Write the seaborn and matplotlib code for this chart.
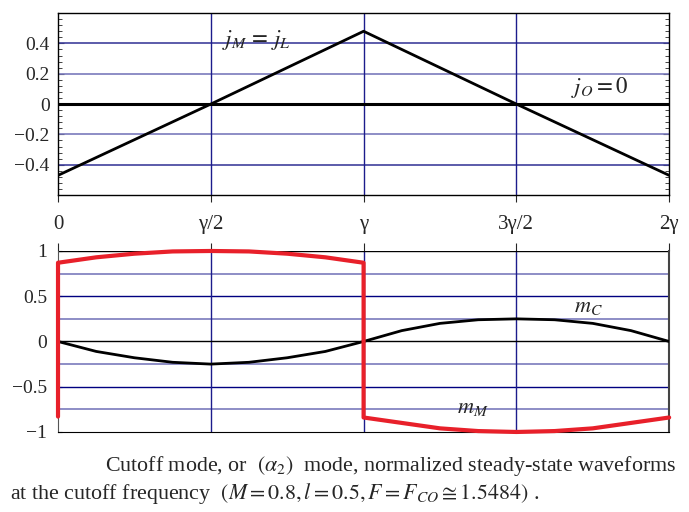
import numpy as np
import pandas as pd
import seaborn as sns
import matplotlib.pyplot as plt
from matplotlib.ticker import MultipleLocator

# x positions in units of gamma
tick_pos = [0, 0.5, 1, 1.5, 2]
tick_lab = ['0', '\u03b3/2', '\u03b3', '3\u03b3/2', '2\u03b3']

# top panel: j_M = j_L
j_x = [0, 0.5, 1, 1.5, 2]
j_y = [-0.47, 0.0, 0.48, 0.0, -0.47]

# bottom panel: m_C
mc_x = [0, 0.125, 0.25, 0.375, 0.5, 0.625, 0.75, 0.875, 1,
        1.125, 1.25, 1.375, 1.5, 1.625, 1.75, 1.875, 2]
mc_y = [0, -0.11, -0.18, -0.23, -0.25, -0.23, -0.18, -0.11, 0,
        0.12, 0.20, 0.24, 0.25, 0.24, 0.20, 0.12, 0]

# bottom panel: m_M (with the switching jumps)
mm_x = [0, 0, 0.125, 0.25, 0.375, 0.5, 0.625, 0.75, 0.875, 1,
        1, 1.125, 1.25, 1.375, 1.5, 1.625, 1.75, 1.875, 2]
mm_y = [-0.83, 0.87, 0.93, 0.97, 0.995, 1.0, 0.995, 0.97, 0.93, 0.87,
        -0.84, -0.90, -0.96, -0.99, -1.0, -0.99, -0.96, -0.90, -0.84]

sns.set_style('white')
plt.rcParams['font.family'] = ['Liberation Serif', 'DejaVu Serif']
plt.rcParams['mathtext.fontset'] = 'stix'

fig = plt.figure(figsize=(6.89, 5.12), dpi=100)
ax1 = fig.add_axes([0.0842, 0.619, 0.887, 0.3555])
ax2 = fig.add_axes([0.0842, 0.1563, 0.887, 0.3535])

navy = '#1c1c8c'
light = '#7a7abc'

# ---- top panel
for y, c in [(0.4, '#40409c'), (0.2, light), (-0.2, light), (-0.4, '#40409c')]:
    ax1.axhline(y, color=c, lw=1.2, zorder=1)
for x in [0.5, 1, 1.5]:
    ax1.axvline(x, color=navy, lw=1.0, zorder=1)
ax1.axhline(0, color='black', lw=2.2, zorder=2)
sns.lineplot(x=j_x, y=j_y, ax=ax1, color='black', lw=2.0, sort=False,
             estimator=None, zorder=3)
ax1.set_xlim(0, 2)
ax1.set_ylim(-0.6, 0.6)
ax1.set_yticks([-0.4, -0.2, 0, 0.2, 0.4])
ax1.set_yticklabels(['\u22120.4', '\u22120.2', '0', '0.2', '0.4'])
ax1.yaxis.set_minor_locator(MultipleLocator(0.04))
ax1.tick_params(axis='y', which='both', direction='in', left=True, right=True,
                labelsize=14, pad=6)
ax1.tick_params(axis='y', which='major', length=4, width=0.8)
ax1.tick_params(axis='y', which='minor', length=3, width=0.6)
ax1.set_xticks(tick_pos)
ax1.set_xticklabels(tick_lab)
ax1.tick_params(axis='x', direction='out', bottom=True, length=5, width=0.8,
                labelsize=15, pad=9)
for s in ax1.spines.values():
    s.set_color('black')
    s.set_linewidth(1.0)
ax1.text(0.537, 0.42, r'$j_M \,=\, j_L$', fontsize=16.5, va='center', ha='left')
ax1.text(1.68, 0.11, r'$j_O = 0$', fontsize=16.5, va='center', ha='left')

# ---- bottom panel
for y in [0.75, 0.25, -0.25, -0.75]:
    ax2.axhline(y, color=light, lw=1.2, zorder=1)
for y in [0.5, -0.5]:
    ax2.axhline(y, color='#000080', lw=1.0, zorder=1)
for x in [0.5, 1, 1.5]:
    ax2.axvline(x, color=navy, lw=1.0, zorder=1)
ax2.axhline(0, color='black', lw=1.0, zorder=2)
ax2.axhline(1, color='black', lw=1.0, zorder=2)
sns.lineplot(x=mc_x, y=mc_y, ax=ax2, color='black', lw=2.0, sort=False,
             estimator=None, zorder=3)
sns.lineplot(x=mm_x, y=mm_y, ax=ax2, color='#e8202a', lw=3.0, sort=False,
             estimator=None, zorder=4, clip_on=False)
ax2.set_xlim(0, 2)
ax2.set_ylim(-1, 1)
ax2.set_yticks([-1, -0.5, 0, 0.5, 1])
ax2.set_yticklabels(['\u22121', '\u22120.5', '0', '0.5', '1'])
ax2.tick_params(axis='y', direction='in', left=True, length=3, labelsize=14, pad=8)
ax2.set_xticks(tick_pos)
ax2.tick_params(axis='x', direction='out', top=True, bottom=False,
                labeltop=False, labelbottom=False, length=6, width=0.8)
ax2.spines['top'].set_visible(False)
ax2.spines['left'].set_color('#555555')
ax2.spines['right'].set_color('#444444')
ax2.spines['right'].set_linewidth(1.5)
ax2.spines['bottom'].set_color('black')
ax2.text(1.69, 0.37, r'$m_C$', fontsize=16, va='center', ha='left')
ax2.text(1.306, -0.74, r'$m_M$', fontsize=16, va='center', ha='left')

fig.text(105 / 689, 1 - 466 / 512,
         r'Cutoff mode, or  $(\alpha_2)$  mode, normalized steady-state waveforms',
         fontsize=15.8, va='center', ha='left')
fig.text(10 / 689, 1 - 493 / 512,
         r'at the cutoff frequency  $(M = 0.8, l = 0.5, F = F_{CO} \cong 1.5484)$ .',
         fontsize=15.8, va='center', ha='left')

fig.savefig('out.png', dpi=100)
